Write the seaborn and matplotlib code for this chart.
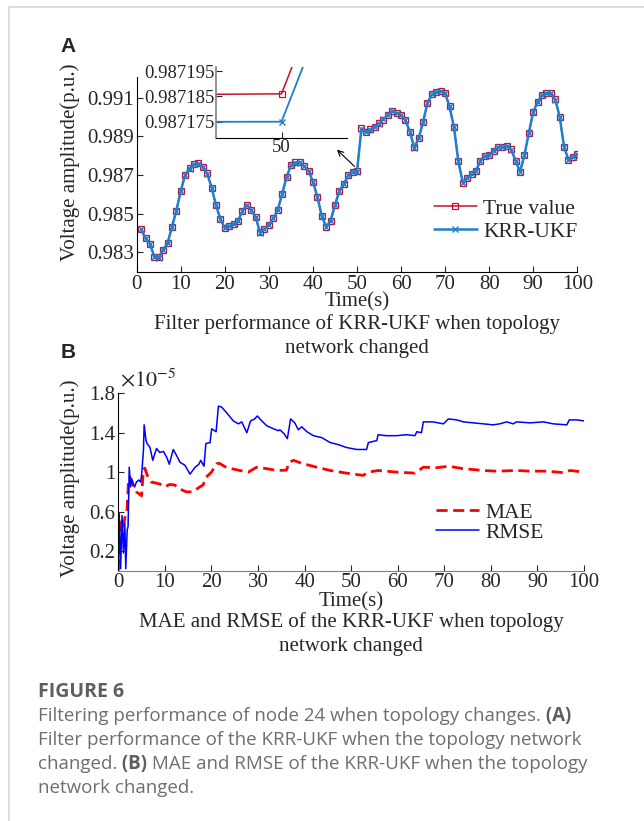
import matplotlib
matplotlib.use("Agg")
import matplotlib.pyplot as plt
import seaborn as sns
import pandas as pd
from matplotlib.lines import Line2D

# ---------------- data ----------------
time_a = list(range(1, 101))
true_value = [
    0.98419, 0.98372, 0.98343, 0.98277, 0.98274, 0.98312, 0.98347, 0.98432, 0.98515, 0.98618,
    0.98701, 0.98734, 0.98756, 0.98760, 0.98742, 0.98708, 0.98634, 0.98544, 0.98471, 0.98427,
    0.98436, 0.98446, 0.98462, 0.98515, 0.98544, 0.98519, 0.98481, 0.98403, 0.98419, 0.98443,
    0.98476, 0.98519, 0.98601, 0.98688, 0.98750, 0.98765, 0.98765, 0.98746, 0.98722, 0.98665,
    0.98587, 0.98488, 0.98432, 0.98463, 0.98544, 0.98618, 0.98651, 0.98699, 0.987180, 0.987186,
    0.98941, 0.98923, 0.98936, 0.98949, 0.98967, 0.98987, 0.99010, 0.99032, 0.99021, 0.99010,
    0.98984, 0.98923, 0.98843, 0.98889, 0.98975, 0.99073, 0.99118, 0.99130, 0.99135, 0.99122,
    0.99056, 0.98946, 0.98773, 0.98660, 0.98686, 0.98703, 0.98722, 0.98773, 0.98798, 0.98803,
    0.98825, 0.98843, 0.98846, 0.98851, 0.98832, 0.98773, 0.98717, 0.98803, 0.98918, 0.99027,
    0.99078, 0.99113, 0.99125, 0.99122, 0.99091, 0.99001, 0.98846, 0.98777, 0.98794, 0.98808,
]
krr_ukf = [
    0.98418, 0.98373, 0.98342, 0.98278, 0.98273, 0.98313, 0.98346, 0.98431, 0.98516, 0.98617,
    0.98702, 0.98733, 0.98757, 0.98759, 0.98743, 0.98707, 0.98635, 0.98543, 0.98472, 0.98426,
    0.98437, 0.98445, 0.98463, 0.98514, 0.98545, 0.98518, 0.98482, 0.98402, 0.98420, 0.98442,
    0.98477, 0.98518, 0.98602, 0.98687, 0.98751, 0.98764, 0.98766, 0.98745, 0.98723, 0.98664,
    0.98588, 0.98487, 0.98433, 0.98462, 0.98545, 0.98617, 0.98652, 0.98698, 0.987174, 0.987175,
    0.98940, 0.98924, 0.98935, 0.98950, 0.98966, 0.98988, 0.99009, 0.99033, 0.99020, 0.99011,
    0.98983, 0.98924, 0.98842, 0.98890, 0.98974, 0.99074, 0.99117, 0.99131, 0.99134, 0.99123,
    0.99055, 0.98947, 0.98772, 0.98661, 0.98685, 0.98704, 0.98721, 0.98774, 0.98797, 0.98804,
    0.98824, 0.98844, 0.98845, 0.98852, 0.98831, 0.98774, 0.98716, 0.98804, 0.98917, 0.99028,
    0.99077, 0.99114, 0.99124, 0.99123, 0.99090, 0.99002, 0.98845, 0.98778, 0.98793, 0.98809,
]

# panel B (values in units of 1e-5 p.u.)
rmse_time = [0, 0.2, 0.5, 0.8, 1.1, 1.4, 1.6, 1.9, 2.1, 2.35, 2.65, 2.9, 3.2, 3.5, 3.9, 4.4, 4.8, 5.0, 5.4, 5.55,
             5.95, 6.2, 6.8, 7.4, 8.2, 8.9, 9.7, 10.4, 10.95, 11.8, 12.5, 13.25, 14.3, 15.4, 16.5, 17.3, 17.7, 18.4, 18.8, 19.7,
             20.05, 21.0, 21.5, 22.2, 23.3, 24.7, 25.8, 26.5, 27.6, 28.4, 29.3, 29.85, 30.8, 31.9, 33.3, 34.4, 34.7, 35.6, 36.3, 37.0,
             37.9, 38.65, 39.4, 40.5, 41.9, 43.7, 45.5, 47.2, 49.0, 51.2, 53.3, 53.7, 55.5, 55.8, 57.5, 59.8, 61.9, 63.7, 64.1, 65.1,
             65.5, 67.6, 69.8, 70.9, 72.7, 74.1, 76.2, 78.4, 80.5, 81.9, 83.4, 84.8, 85.5, 88.4, 91.3, 93.4, 96.3, 96.85, 98.4, 100]
rmse = [0.0, 0.58, 0.02, 0.56, 0.18, 0.48, 0.02, 0.41, 0.45, 1.05, 0.85, 0.93, 0.88, 0.85, 0.90, 0.92, 0.90, 0.97, 1.22, 1.48,
        1.32, 1.29, 1.25, 1.12, 1.24, 1.20, 1.21, 1.15, 1.08, 1.23, 1.17, 1.10, 1.07, 0.98, 1.05, 1.08, 1.12, 1.06, 1.29, 1.30,
        1.44, 1.41, 1.67, 1.66, 1.60, 1.52, 1.49, 1.51, 1.40, 1.52, 1.54, 1.57, 1.52, 1.47, 1.44, 1.42, 1.43, 1.39, 1.34, 1.54,
        1.50, 1.43, 1.46, 1.41, 1.37, 1.35, 1.30, 1.28, 1.25, 1.23, 1.23, 1.30, 1.32, 1.38, 1.37, 1.37, 1.38, 1.37, 1.41, 1.40,
        1.51, 1.51, 1.49, 1.54, 1.53, 1.51, 1.50, 1.49, 1.48, 1.49, 1.51, 1.49, 1.51, 1.50, 1.51, 1.49, 1.48, 1.53, 1.53, 1.52]
mae_time = [0, 0.2, 0.5, 0.7, 1.1, 1.5, 1.9, 2.2, 2.5, 3.2, 3.9, 5.0, 5.4, 5.7, 6.2, 7.1, 8.9, 10.0, 11.0, 12.1,
            13.2, 14.6, 16.0, 17.5, 18.2, 18.9, 20.0, 21.1, 21.7, 23.3, 26.1, 27.9, 29.7, 31.9, 34.0, 36.1, 36.7, 37.6, 39.7, 42.6,
            45.5, 49.0, 52.6, 53.7, 55.8, 59.8, 63.7, 65.5, 68.4, 70.9, 74.1, 78.4, 81.2, 85.5, 88.4, 92.0, 95.6, 97.0, 100]
mae = [0.0, 0.34, 0.2, 0.51, 0.45, 0.56, 0.63, 0.93, 0.95, 0.87, 0.80, 0.76, 1.03, 1.04, 0.97, 0.90, 0.88, 0.85, 0.875, 0.87,
       0.83, 0.80, 0.80, 0.85, 0.87, 0.95, 1.0, 1.085, 1.09, 1.045, 1.017, 1.0, 1.05, 1.035, 1.017, 1.02, 1.10, 1.12, 1.085, 1.05,
       1.017, 0.99, 0.967, 1.0, 1.017, 1.0, 0.99, 1.05, 1.045, 1.06, 1.035, 1.017, 1.01, 1.017, 1.01, 1.01, 0.995, 1.017, 1.0]

a_yticks = [0.983, 0.985, 0.987, 0.989, 0.991]
inset_yticks = [0.987175, 0.987185, 0.987195]
b_yticks = [0.2, 0.6, 1.0, 1.4, 1.8]
b_yticklabels = ["0.2", "0.6", "1", "1.4", "1.8"]
x_ticks = list(range(0, 101, 10))

caption_title = "FIGURE 6"
caption_lines = [
    [("Filtering performance of node 24 when topology changes.", False), (" (A)", True)],
    [("Filter performance of the KRR-UKF when the topology network", False)],
    [("changed.", False), (" (B)", True), (" MAE and RMSE of the KRR-UKF when the topology", False)],
    [("network changed.", False)],
]

# ---------------- style ----------------
sns.set_style("white")
plt.rcParams["font.family"] = ["Liberation Serif", "DejaVu Serif"]
plt.rcParams["mathtext.fontset"] = "stix"

W, H = 644, 821
fig = plt.figure(figsize=(W / 100, H / 100), dpi=100)

RED = "#c8102e"
BLUE = "#1f7fd0"
FS = 15


def fx(px):
    return px / W


def fy(py):
    return 1 - py / H


def style_axes(ax):
    for s in ["top", "right"]:
        ax.spines[s].set_visible(False)
    for s in ["left", "bottom"]:
        ax.spines[s].set_color("black")
        ax.spines[s].set_linewidth(0.8)
    ax.tick_params(direction="in", length=4, width=0.8, labelsize=FS, pad=2,
                   left=True, bottom=True, top=False, right=False)


# ---------------- panel A ----------------
axA = fig.add_axes([fx(136.7), fy(272), fx(577.3) - fx(136.7), fy(77) - fy(272)])
dfA = pd.DataFrame({"t": time_a, "true": true_value, "krr": krr_ukf})
sns.lineplot(data=dfA, x="t", y="true", ax=axA, color=RED, linewidth=1.1,
             marker="s", markersize=5, markerfacecolor="none", markeredgecolor=RED,
             markeredgewidth=0.9, label="True value")
sns.lineplot(data=dfA, x="t", y="krr", ax=axA, color=BLUE, linewidth=1.8,
             marker="x", markersize=4.5, markeredgecolor=BLUE, markeredgewidth=1.0,
             label="KRR-UKF")
axA.set_xlim(0, 100)
axA.set_ylim(0.98198, 0.99207)
axA.set_xticks(x_ticks)
axA.set_yticks(a_yticks)
axA.set_yticklabels([f"{v:.3f}" for v in a_yticks])
axA.set_xlabel("")
axA.set_ylabel("")
style_axes(axA)
axA.legend(loc="center right", bbox_to_anchor=(1.03, 0.265), frameon=False,
           fontsize=FS + 0.5, handlelength=2.0, handletextpad=0.3, labelspacing=0.15,
           borderpad=0.1)
axA.annotate("", xy=(45.0, 0.98841), xytext=(49.9, 0.98734),
             arrowprops=dict(arrowstyle="->", color="black", lw=0.8))

# inset
axI = fig.add_axes([fx(216), fy(137.7), fx(347) - fx(216), fy(66.7) - fy(137.7)])
sns.lineplot(data=dfA, x="t", y="true", ax=axI, color=RED, linewidth=1.1,
             marker="s", markersize=5, markerfacecolor="none", markeredgecolor=RED,
             markeredgewidth=0.9, legend=False)
sns.lineplot(data=dfA, x="t", y="krr", ax=axI, color=BLUE, linewidth=1.3,
             marker="x", markersize=5, markeredgecolor=BLUE, markeredgewidth=1.0,
             legend=False)
axI.set_xlim(49.9703, 50.0297)
axI.set_ylim(0.9871687, 0.9871967)
axI.set_xticks([50])
axI.set_yticks(inset_yticks)
axI.set_yticklabels([f"{v:.6f}" for v in inset_yticks])
axI.set_xlabel("")
axI.set_ylabel("")
axI.set_facecolor("white")
style_axes(axI)
axI.tick_params(labelsize=13.5, pad=1)
axI.spines["left"].set_color("#808080")
axI.spines["left"].set_linewidth(1.2)

# texts for A
fig.text(fx(68), fy(47), "A", fontsize=15, fontweight="bold",
         family=["Liberation Sans", "DejaVu Sans"], ha="center", va="center")
fig.text(fx(70), fy(162), "Voltage amplitude(p.u.)", rotation=90, fontsize=FS,
         ha="center", va="center")
fig.text(fx(357), fy(302), "Time(s)", fontsize=FS, ha="center", va="center")
fig.text(fx(357), fy(324), "Filter performance of KRR-UKF when topology",
         fontsize=FS, ha="center", va="center")
fig.text(fx(357), fy(348), "network changed", fontsize=FS, ha="center", va="center")

# ---------------- panel B ----------------
axB = fig.add_axes([fx(118.3), fy(570.7), fx(584) - fx(118.3), fy(393.3) - fy(570.7)])
dfM = pd.DataFrame({"t": mae_time, "v": mae})
dfR = pd.DataFrame({"t": rmse_time, "v": rmse})
sns.lineplot(data=dfM, x="t", y="v", ax=axB, color="#ff0000", linewidth=2.0,
             linestyle=(0, (4, 2)), label="MAE", sort=False)
sns.lineplot(data=dfR, x="t", y="v", ax=axB, color="#0000ff", linewidth=1.1,
             label="RMSE", sort=False)
axB.set_xlim(0, 100)
axB.set_ylim(0, 1.8)
axB.set_xticks(x_ticks)
axB.set_yticks(b_yticks)
axB.set_yticklabels(b_yticklabels)
axB.set_xlabel("")
axB.set_ylabel("")
style_axes(axB)
axB.spines["bottom"].set_color("#808080")
axB.legend(loc="center left", bbox_to_anchor=(0.655, 0.27), frameon=False,
           fontsize=FS + 0.5, handlelength=2.0, handletextpad=0.3, labelspacing=0.0,
           borderpad=0.1)

fig.text(fx(120), fy(380), r"$\times10^{-5}$", fontsize=FS + 1, ha="left", va="center")
fig.text(fx(68), fy(352), "B", fontsize=15, fontweight="bold",
         family=["Liberation Sans", "DejaVu Sans"], ha="center", va="center")
fig.text(fx(70), fy(478), "Voltage amplitude(p.u.)", rotation=90, fontsize=FS,
         ha="center", va="center")
fig.text(fx(351), fy(602), "Time(s)", fontsize=FS, ha="center", va="center")
fig.text(fx(351), fy(622), "MAE and RMSE of the KRR-UKF when topology",
         fontsize=FS, ha="center", va="center")
fig.text(fx(351), fy(646), "network changed", fontsize=FS, ha="center", va="center")

# ---------------- page border & caption ----------------
fig.add_artist(Line2D([fx(9), fx(644)], [fy(7), fy(7)], color="#d5d5d5", lw=1.2))
fig.add_artist(Line2D([fx(9), fx(9)], [fy(7), fy(821)], color="#d5d5d5", lw=1.2))

CAP_FAM = ["Open Sans", "DejaVu Sans"]
CAP_FS = 13.5
fig.text(fx(38), fy(692), caption_title, fontsize=14, fontweight="bold",
         color="#5f5f5f", family=CAP_FAM, ha="left", va="center")
renderer = fig.canvas.get_renderer()
for i, segs in enumerate(caption_lines):
    y = 716 + 24 * i
    x = 38
    for txt, bold in segs:
        t = fig.text(fx(x), fy(y), txt, fontsize=CAP_FS,
                     fontweight="bold" if bold else "normal",
                     color="#5f5f5f" if bold else "#6e6e6e", family=CAP_FAM,
                     ha="left", va="center")
        bb = t.get_window_extent(renderer)
        x = bb.x1

fig.savefig("out.png", dpi=100)
